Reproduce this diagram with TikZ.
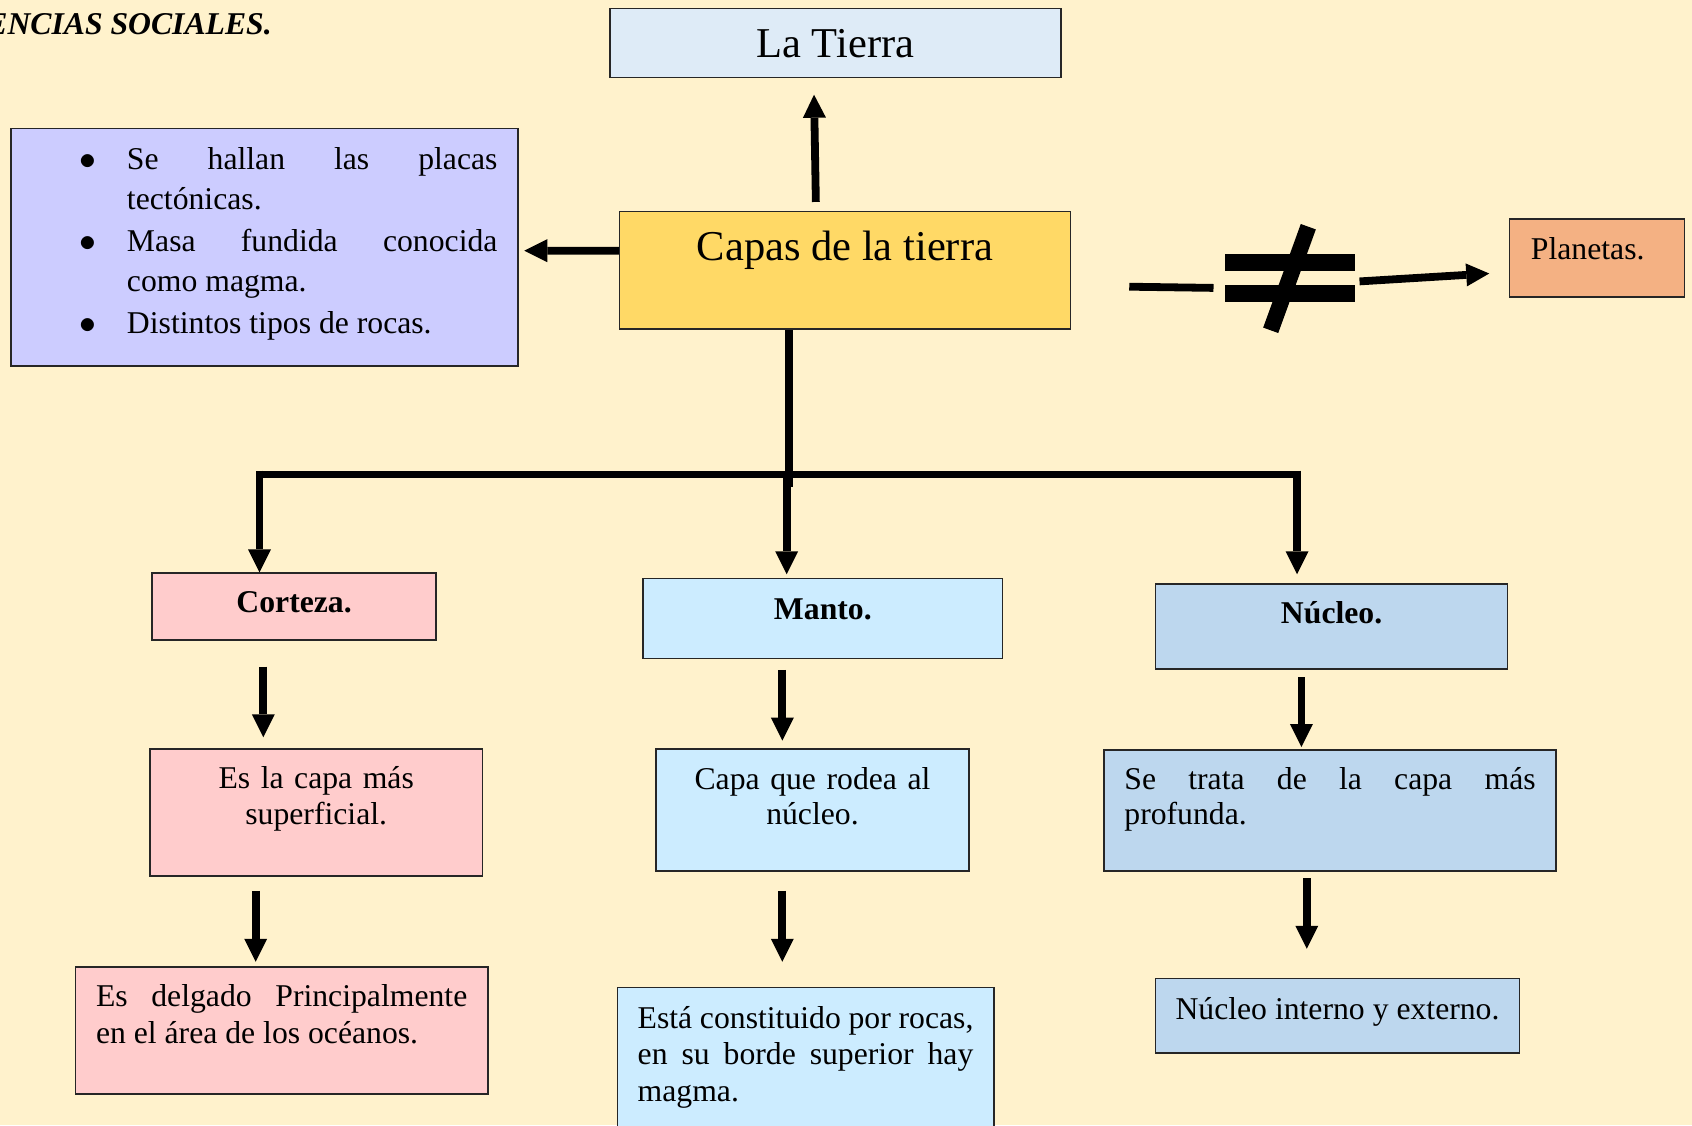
\documentclass[tikz,border=0pt]{standalone}
\usepackage{fontspec}
\setmainfont{Liberation Serif}
\usetikzlibrary{arrows.meta}
\definecolor{fondo}{HTML}{FFF2CC}
\definecolor{tierra}{HTML}{DEEBF7}
\definecolor{dorado}{HTML}{FFD966}
\definecolor{lila}{HTML}{CCCCFF}
\definecolor{salmon}{HTML}{F4B183}
\definecolor{rosa}{HTML}{FFCCCC}
\definecolor{celeste}{HTML}{CCECFF}
\definecolor{azul}{HTML}{BDD7EE}

\begin{document}
\begin{tikzpicture}[x=1pt, y=-1pt,
    caja/.style={draw=black!85, line width=1.5pt, inner xsep=20.5pt, inner ysep=0pt,
      font=\fontsize{31.7}{35.7}\selectfont},
    titulo/.style={caja, inner xsep=0pt, font=\bfseries\fontsize{31.7}{35.7}\selectfont},
    flecha/.style={line width=7.8pt, -{Triangle[width=23pt, length=23pt, line width=0pt]}},
    linea/.style={line width=7.8pt}]
    % Fondo
    \useasboundingbox (0,0) rectangle (1692,1125);
    \fill[fondo] (0,0) rectangle (1692,1125);
    \node[anchor=base east, inner sep=0pt, font=\bfseries\itshape\fontsize{31.7}{36}\selectfont] (cabecera) at (272,34) {ENCIAS SOCIALES.};
    % Arriba
    \node[caja, fill=tierra, minimum width=451pt, minimum height=69pt, inner sep=0pt, font=\fontsize{42.5}{50}\selectfont] (tierra) at (835.25,43.15) {La Tierra};
    \node[caja, fill=dorado, minimum width=451pt, inner xsep=0pt, text height=48.5pt, text depth=69.1pt, font=\fontsize{42.5}{50}\selectfont] (capas) at (845,270.3) {Capas de la tierra};
    \node[caja, fill=lila, text width=466.2pt, align=justify, text height=40.6pt, text depth=196.8pt, font=\fontsize{31.7}{40}\selectfont] (lista) at (264.4,247.1) {%
      \leftskip=95.7pt \parskip=2pt
      \noindent\llap{\scalebox{1.35}{$\bullet$}\hspace{31pt}}Se hallan las placas\linebreak tectónicas.\par
      \noindent\llap{\scalebox{1.35}{$\bullet$}\hspace{31pt}}Masa fundida conocida\linebreak como magma.\par
      \noindent\llap{\scalebox{1.35}{$\bullet$}\hspace{31pt}}Distintos tipos de rocas.\par};
    \node[caja, fill=salmon, text width=132.1pt, inner xsep=21.3pt, align=left, text height=40.5pt, text depth=37.2pt] (planetas) at (1597,257.9) {Planetas.};
    % Capas
    \node[titulo, fill=rosa, minimum width=283.8pt, text height=39.5pt, text depth=27.5pt] (corteza) at (294.1,606.5) {Corteza.};
    \node[titulo, fill=celeste, minimum width=359.3pt, text height=40.6pt, text depth=39.3pt] (manto) at (822.85,618.35) {Manto.};
    \node[titulo, fill=azul, minimum width=351.8pt, text height=39.7pt, text depth=45.5pt] (nucleo) at (1331.6,626.4) {Núcleo.};
    \node[caja, fill=rosa, text width=292.4pt, inner xsep=20pt, align=center, text height=40pt, text depth=87.3pt] (cortezaD) at (316.2,812.55) {Es la capa más\\superficial.};
    \node[caja, fill=celeste, text width=273pt, inner xsep=20pt, align=center, text height=40.1pt, text depth=81.8pt] (mantoD) at (812.5,809.85) {Capa que rodea al\\núcleo.};
    \node[caja, fill=azul, text width=411.2pt, inner xsep=20.4pt, align=justify, text height=39pt, text depth=81.8pt] (nucleoD) at (1330,810.4) {Se trata de la capa más\linebreak profunda.};
    \node[caja, fill=rosa, text width=371.3pt, align=justify, text height=39.6pt, text depth=87.7pt, font=\fontsize{31.7}{37}\selectfont] (cortezaA) at (281.65,1030.55) {Es delgado Principalmente\linebreak en el área de los océanos.};
    \node[caja, fill=celeste, text width=335.7pt, inner xsep=20.4pt, align=justify, text height=40.6pt, text depth=112pt, font=\fontsize{31.7}{36.8}\selectfont] (mantoA) at (805.55,1063.7) {Está constituido por rocas,\linebreak en su borde superior hay\linebreak magma.};
    \node[caja, fill=azul, minimum width=363.6pt, inner xsep=0pt, text height=40.3pt, text depth=34.2pt] (nucleoA) at (1337.5,1015.95) {Núcleo interno y externo.};
    % Puntos de la barra
    \coordinate (cruce) at (789,474.5);
    \coordinate (izq) at (259.5,474.5);
    \coordinate (medio) at (786.7,474.5);
    \coordinate (der) at (1297,474.5);
    \coordinate (distinto) at (1289.5,278.4);
    % Flechas
    \draw[flecha, shorten <=8.8pt, shorten >=16.3pt] ([xshift=-29pt]capas.north) -- ([xshift=-21.5pt]tierra.south);
    \draw[flecha, shorten >=5.5pt] ([yshift=19.6pt]capas.west) -- ([yshift=-3.6pt]lista.east);
    \draw[linea] ([xshift=-56pt]capas.south) -- ([yshift=-12pt]cruce);
    \draw[linea, line cap=rect] (izq) -- (der);
    \draw[flecha] ([yshift=3.9pt]izq) -- (izq |- corteza.north);
    \draw[flecha, shorten >=3.4pt] (medio) -- (medio |- manto.north);
    \draw[flecha, shorten >=8.8pt] ([yshift=3.9pt]der) -- (der |- nucleo.north);
    \draw[flecha, shorten <=25.8pt, shorten >=10.9pt] ([xshift=-30.8pt]corteza.south) -- ([xshift=-30.8pt]corteza.south |- cortezaD.north);
    \draw[flecha, shorten <=10.7pt, shorten >=7.6pt] ([xshift=-40.5pt]manto.south) -- ([xshift=-40.5pt]manto.south |- mantoD.north);
    \draw[flecha, shorten <=7.6pt, shorten >=2.2pt] ([xshift=-30.2pt]nucleo.south) -- ([xshift=-30.2pt]nucleo.south |- nucleoD.north);
    \draw[flecha, shorten <=13.8pt, shorten >=4.4pt] ([xshift=-60.5pt]cortezaD.south) -- ([xshift=-60.5pt]cortezaD.south |- cortezaA.north);
    \draw[flecha, shorten <=19.2pt, shorten >=24.9pt] ([xshift=-30.2pt]mantoD.south) -- ([xshift=-30.2pt]mantoD.south |- mantoA.north);
    \draw[flecha, shorten <=6.5pt, shorten >=29.1pt] ([xshift=-23.2pt]nucleoD.south) -- ([xshift=-23.2pt]nucleoD.south |- nucleoA.north);
    % Distinto de
    \draw[linea] ([shift={(58,16.4)}]capas.east) -- ([shift={(-76,9.5)}]distinto);
    \draw[flecha, shorten >=19.7pt] ([shift={(70,3)}]distinto) -- ([yshift=-14.4pt]planetas.west);
    \fill ([shift={(-64.5,-24.1)}]distinto) rectangle ([shift={(65.5,-7.4)}]distinto);
    \fill ([shift={(-64.5,6.6)}]distinto) rectangle ([shift={(65.5,23.3)}]distinto);
    \draw[line width=16pt] ([shift={(18.8,-51.7)}]distinto) -- ([shift={(-18.8,51.9)}]distinto);
\end{tikzpicture}
\end{document}
